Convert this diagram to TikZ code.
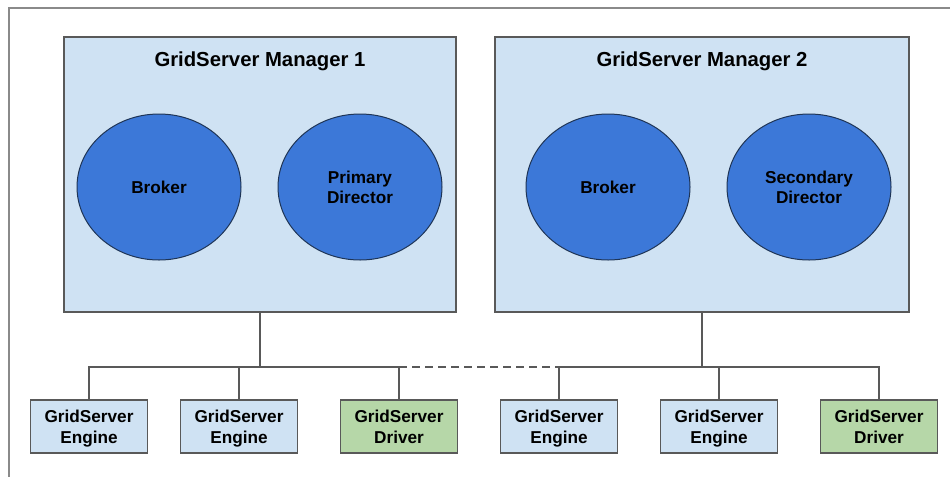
\documentclass[tikz,border=0pt]{standalone}
\usepackage{fontspec}
\setmainfont{Liberation Sans}
\usetikzlibrary{shapes.geometric}
\definecolor{lightblue}{HTML}{CFE2F3}
\definecolor{midblue}{HTML}{3C78D8}
\definecolor{lightgreen}{HTML}{B6D7A8}
\definecolor{edgegray}{HTML}{595959}
\definecolor{framegray}{HTML}{8A8A8A}
\definecolor{ellline}{HTML}{1F3556}
\begin{document}
\begin{tikzpicture}[x=1pt,y=-1pt,
  mgr/.style={draw=edgegray,line width=1.2pt,fill=lightblue,minimum width=392pt,minimum height=275pt,inner sep=0pt},
  title/.style={font=\fontsize{20.3}{24}\selectfont\bfseries,inner sep=0pt},
  ell/.style={ellipse,draw=ellline,line width=1pt,fill=midblue,minimum width=164pt,minimum height=146pt,inner sep=0pt,align=center,font=\fontsize{17.2}{20}\selectfont\bfseries},
  engbox/.style={draw=edgegray,line width=1.2pt,fill=lightblue,minimum width=117pt,minimum height=53pt,inner sep=0pt,align=center,text depth=0pt,font=\fontsize{17.2}{21}\selectfont\bfseries},
  drvbox/.style={engbox,fill=lightgreen},
  conn/.style={draw=edgegray,line width=1.3pt},
  dashconn/.style={conn,dash pattern=on 8pt off 5pt}
]
\useasboundingbox (0,0) rectangle (950,477);
\draw[framegray,line width=1.5pt] (950,8) -- (9,8) -- (9,477);

\node[mgr] (m1) at (260,174.5) {};
\node[mgr,minimum width=414pt] (m2) at (702,174.5) {};
\node[title] (t1) at (260,61) {GridServer Manager 1};
\node[title] (t2) at (702,61) {GridServer Manager 2};

\node[ell] (b1) at (159,187) {Broker};
\node[ell] (p1) at (360,187) {Primary\\Director};
\node[ell] (b2) at (608,187) {Broker};
\node[ell] (s2) at (809,187) {Secondary\\Director};

\node[engbox] (e1) at (89,426.5) {GridServer\\Engine};
\node[engbox] (e2) at (239,426.5) {GridServer\\Engine};
\node[drvbox] (d1) at (399,426.5) {GridServer\\Driver};
\node[engbox] (e3) at (559,426.5) {GridServer\\Engine};
\node[engbox] (e4) at (719,426.5) {GridServer\\Engine};
\node[drvbox] (d2) at (879,426.5) {GridServer\\Driver};

\coordinate (bus1) at (259,367);
\coordinate (bus2) at (701,367);

\draw[conn] (m1.south) -- (m1.south |- bus1);
\draw[conn] (e1.north) -- (e1.north |- bus1) -| (d1.north);
\draw[conn] (e2.north) -- (e2.north |- bus1);
\draw[conn] (m2.south) -- (m2.south |- bus2);
\draw[conn] (e3.north) -- (e3.north |- bus2) -| (d2.north);
\draw[conn] (e4.north) -- (e4.north |- bus2);
\draw[dashconn] (d1.north |- bus1) -- (e3.north |- bus2);
\end{tikzpicture}
\end{document}
